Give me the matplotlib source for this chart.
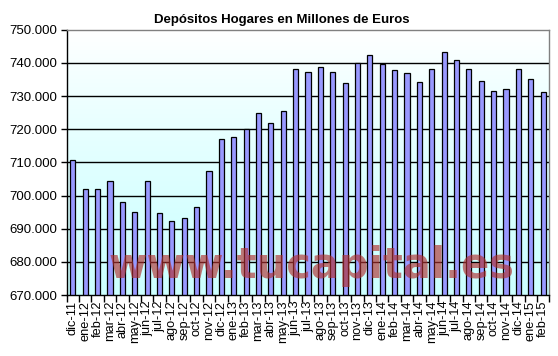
import matplotlib
matplotlib.use("Agg")
import matplotlib.pyplot as plt
import numpy as np
from matplotlib.ticker import FuncFormatter, FixedLocator

months = ["dic-11", "ene-12", "feb-12", "mar-12", "abr-12", "may-12", "jun-12", "jul-12",
          "ago-12", "sep-12", "oct-12", "nov-12", "dic-12", "ene-13", "feb-13", "mar-13",
          "abr-13", "may-13", "jun-13", "jul-13", "ago-13", "sep-13", "oct-13", "nov-13",
          "dic-13", "ene-14", "feb-14", "mar-14", "abr-14", "may-14", "jun-14", "jul-14",
          "ago-14", "sep-14", "oct-14", "nov-14", "dic-14", "ene-15", "feb-15"]
deposits = [710600, 701900, 701900, 704300, 698000, 695000, 704300, 694700,
            692300, 693200, 696500, 707300, 717000, 717500, 720000, 724800,
            721800, 725500, 738300, 737100, 738900, 737100, 733800, 740100,
            742500, 739800, 737700, 736800, 734100, 738000, 743400, 741000,
            738000, 734400, 731400, 732000, 738000, 735000, 731100]
yticks = [670000, 680000, 690000, 700000, 710000, 720000, 730000, 740000, 750000]
title = "Depósitos Hogares en Millones de Euros"
watermark = "www.tucapital.es"

plt.rcParams['font.family'] = ['Liberation Sans', 'DejaVu Sans']

fig = plt.figure(figsize=(5.58, 3.56), dpi=100)
ax = fig.add_axes([66.7/558, 1-295/356, (549.3-66.7)/558, (295-29.7)/356])

n = len(months)
x = np.arange(n)
ax.set_xlim(-0.5, n-0.5)
ax.set_ylim(yticks[0], yticks[-1])

# gradient background
grad = np.linspace(0, 1, 256).reshape(-1, 1) ** 1.3
top = np.array([0.8, 1.0, 1.0])
bot = np.array([1.0, 1.0, 1.0])
img = top[None, None, :] * (1-grad[:, :, None]) + bot[None, None, :] * grad[:, :, None]
ax.imshow(img, extent=[-0.5, n-0.5, yticks[-1], yticks[0]], aspect='auto', zorder=0)

for yv in yticks[1:-1]:
    ax.axhline(yv, color='black', lw=1.0, zorder=1)

ax.bar(x, deposits, width=0.42, bottom=0, color='#9999ff', edgecolor='black', linewidth=0.9, zorder=2)
ax.set_ylim(yticks[0], yticks[-1])

ax.yaxis.set_major_locator(FixedLocator(yticks))
ax.yaxis.set_major_formatter(FuncFormatter(lambda v, p: f"{int(v):,}".replace(",", ".")))
ax.tick_params(axis='y', labelsize=9.5, length=4, width=1, pad=3, colors='black')

ax.set_xticks(x)
ax.set_xticklabels(months, rotation=90, fontsize=9.2)
ax.tick_params(axis='x', length=0, pad=4)
ax.set_xticks(np.arange(-0.5, n, 1), minor=True)
ax.tick_params(axis='x', which='minor', length=5, width=1, direction='out')

for s in ['top', 'right']:
    ax.spines[s].set_color('#808080')
    ax.spines[s].set_linewidth(1)
for s in ['left', 'bottom']:
    ax.spines[s].set_color('black')
    ax.spines[s].set_linewidth(1)

fig.text(282/558, 1-19.5/356, title, ha='center', va='center', fontsize=9.5, fontweight='bold')

ax.text(0.507, 0.065, watermark, transform=ax.transAxes, ha='center', va='baseline',
        fontsize=30, fontweight='heavy', color='#b03030', alpha=0.65, zorder=3,
        family=['DejaVu Sans'])

fig.savefig("out.png", dpi=100)
